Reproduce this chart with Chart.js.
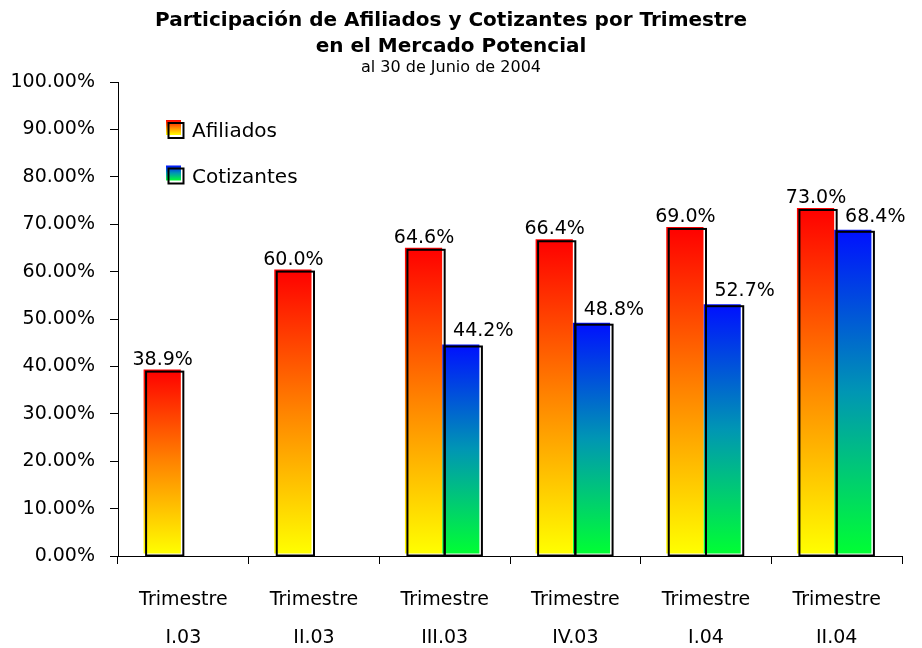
<!DOCTYPE html>
<html>
<head>
<meta charset="utf-8">
<script src="https://cdn.jsdelivr.net/npm/chart.js@4/dist/chart.umd.min.js"></script>
<style>
  html, body { margin: 0; padding: 0; background: #ffffff; }
  #wrap { width: 922px; height: 648px; }
</style>
</head>
<body>
<div id="wrap"><canvas id="c" width="922" height="648"></canvas></div>
<script>
// ---- Data ----
const quarters = ['I.03', 'II.03', 'III.03', 'IV.03', 'I.04', 'II.04'];
const categories = quarters.map(q => ['Trimestre', q]);
const afiliados = [38.9, 60.0, 64.6, 66.4, 69.0, 73.0];
const cotizantes = [null, null, 44.2, 48.8, 52.7, 68.4];
const seriesNames = ['Afiliados', 'Cotizantes'];
const titleLines = ['Participación de Afiliados y Cotizantes por Trimestre', 'en el Mercado Potencial'];
const subtitleText = 'al 30 de Junio de 2004';
const yMin = 0, yMax = 100, yStep = 10;

// ---- Styling ----
const FONT = 'DejaVu Sans';
const gradStops = [
  [[0, '#ff0000'], [0.5, '#ff8400'], [1, '#ffff00']],
  [[0, '#0010ff'], [0.5, '#0096b4'], [1, '#00ff33']]
];
const labelDx = [-2, 20];
const labelDy = [7, 10];

function barGradient(index) {
  return function (ctx) {
    const chart = ctx.chart;
    if (ctx.type !== 'data' || !chart.chartArea || ctx.raw == null) return gradStops[index][0][1];
    const y = chart.scales.y;
    const top = y.getPixelForValue(ctx.raw);
    const bot = y.getPixelForValue(0);
    const g = chart.ctx.createLinearGradient(0, top, 0, bot);
    gradStops[index].forEach(s => g.addColorStop(s[0], s[1]));
    return g;
  };
}

const shadowPlugin = {
  id: 'shadowBars',
  beforeDatasetsDraw(chart) {
    chart.ctx.save();
    chart.ctx.translate(-2.5, -2);
  },
  afterDatasetsDraw(chart) {
    const c = chart.ctx;
    c.restore();
    c.save();
    // black outlines
    c.strokeStyle = '#000';
    c.lineWidth = 2;
    chart.data.datasets.forEach((ds, di) => {
      const meta = chart.getDatasetMeta(di);
      meta.data.forEach((bar, i) => {
        if (ds.data[i] == null) return;
        const p = bar.getProps(['x', 'y', 'base', 'width'], true);
        c.strokeRect(p.x - p.width / 2, p.y, p.width, p.base - p.y);
      });
    });
    // value labels
    c.fillStyle = '#000';
    c.font = '19px "' + FONT + '"';
    c.textAlign = 'center';
    c.textBaseline = 'alphabetic';
    chart.data.datasets.forEach((ds, di) => {
      const meta = chart.getDatasetMeta(di);
      meta.data.forEach((bar, i) => {
        const v = ds.data[i];
        if (v == null) return;
        const p = bar.getProps(['x', 'y'], true);
        c.fillText(v.toFixed(1) + '%', p.x + labelDx[di], p.y - labelDy[di]);
      });
    });
    c.restore();
  }
};

const legendPlugin = {
  id: 'boxLegend',
  afterDraw(chart) {
    const c = chart.ctx;
    c.save();
    chart.data.datasets.forEach((ds, di) => {
      const base = 137 + di * 45.5; // text baseline
      const fx = 166, fy = base - 17;
      const g = c.createLinearGradient(0, fy, 0, fy + 15);
      gradStops[di].forEach(s => g.addColorStop(s[0], s[1]));
      c.fillStyle = g;
      c.fillRect(fx, fy, 15, 15);
      c.strokeStyle = '#000';
      c.lineWidth = 2;
      c.strokeRect(fx + 2.5, fy + 3, 15, 15);
      c.fillStyle = '#000';
      c.font = '20px "' + FONT + '"';
      c.textAlign = 'left';
      c.textBaseline = 'alphabetic';
      c.fillText(ds.label, 192, base);
    });
    c.restore();
  }
};

Chart.defaults.color = '#000';
Chart.defaults.font.family = FONT;

new Chart(document.getElementById('c'), {
  type: 'bar',
  data: {
    labels: categories,
    datasets: [
      { label: seriesNames[0], data: afiliados, backgroundColor: barGradient(0), borderWidth: 0,
        categoryPercentage: 0.57, barPercentage: 1.0 },
      { label: seriesNames[1], data: cotizantes, backgroundColor: barGradient(1), borderWidth: 0,
        categoryPercentage: 0.57, barPercentage: 1.0 }
    ]
  },
  options: {
    responsive: false,
    animation: false,
    layout: { padding: { left: 0, right: 20, top: 0, bottom: 0 } },
    plugins: {
      legend: { display: false },
      tooltip: { enabled: false },
      title: {
        display: true,
        text: titleLines,
        color: '#000',
        font: { family: FONT, size: 20, weight: 'bold', lineHeight: 26 / 20 },
        padding: { top: 8, bottom: 0 }
      },
      subtitle: {
        display: true,
        text: subtitleText,
        color: '#000',
        font: { family: FONT, size: 16, weight: 'normal', lineHeight: 15 / 16 },
        padding: { top: 0, bottom: 7 }
      }
    },
    scales: {
      x: {
        grid: { display: true, offset: true, drawOnChartArea: false, drawTicks: true, tickLength: 8, color: '#000', lineWidth: 1 },
        border: { display: true, color: '#000', width: 1 },
        ticks: { font: { family: FONT, size: 19, lineHeight: 38 / 19 }, padding: 17, color: '#000', maxRotation: 0, autoSkip: false },
        afterFit(scale) { scale.height = 92; }
      },
      y: {
        min: yMin, max: yMax,
        grid: { display: true, drawOnChartArea: false, drawTicks: true, tickLength: 8, color: '#000', lineWidth: 1 },
        border: { display: true, color: '#000', width: 1 },
        ticks: { stepSize: yStep, font: { family: FONT, size: 19 }, padding: 15, color: '#000',
                 callback: v => Number(v).toFixed(2) + '%' },
        afterFit(scale) { scale.width = 118; }
      }
    }
  },
  plugins: [shadowPlugin, legendPlugin]
});
</script>
</body>
</html>
